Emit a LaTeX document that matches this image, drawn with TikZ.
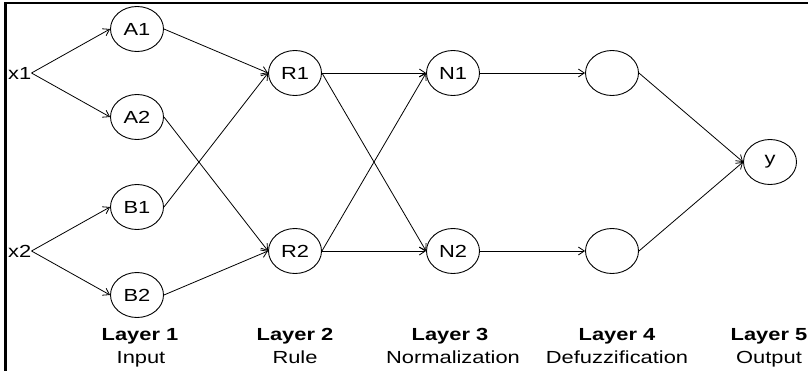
\documentclass[tikz,border=0pt]{standalone}
\usepackage{fontspec}
\setmainfont{Liberation Sans}[FakeStretch=1.25]
\usetikzlibrary{shapes.geometric,arrows.meta}
\begin{document}
\begin{tikzpicture}[x=1pt,y=-1pt,
  nd/.style={ellipse,draw,line width=0.9pt,minimum width=53pt,minimum height=45pt,inner sep=0pt,font=\fontsize{17.5}{20}\selectfont},
  lbl/.style={inner sep=0pt,font=\fontsize{17.5}{20}\selectfont},
  bl/.style={inner sep=0pt,anchor=base,font=\fontsize{17.5}{20}\selectfont\bfseries},
  tl/.style={inner sep=0pt,anchor=base,font=\fontsize{17.5}{20}\selectfont},
  arr/.style={line width=0.8pt,-{Straight Barb[length=6pt,width=8pt]}}]
\useasboundingbox (0,0) rectangle (808,370);
\draw[line width=2.5pt] (5.3,371) -- (5.3,2.8) -- (809,2.8);
\node[lbl,anchor=west] (x1) at (8,73) {x1};
\node[lbl,anchor=west] (x2) at (8,251) {x2};
\node[nd] (A1) at (137,29) {A1};
\node[nd] (A2) at (137,117) {A2};
\node[nd] (B1) at (137,207) {B1};
\node[nd] (B2) at (137,295) {B2};
\node[nd] (R1) at (295,73) {R1};
\node[nd] (R2) at (295,251) {R2};
\node[nd] (N1) at (453,73) {N1};
\node[nd] (N2) at (453,251) {N2};
\node[nd] (D1) at (612,73) {};
\node[nd] (D2) at (612,251) {};
\node[nd] (Y) at (770,162) {y};
\draw[arr] (x1.east) -- (A1.west);
\draw[arr] (x1.east) -- (A2.west);
\draw[arr] (x2.east) -- (B1.west);
\draw[arr] (x2.east) -- (B2.west);
\draw[arr] (A1.east) -- (R1.west);
\draw[arr] (A2.east) -- (R2.west);
\draw[arr] (B1.east) -- (R1.west);
\draw[arr] (B2.east) -- (R2.west);
\draw[arr] (R1.east) -- (N1.west);
\draw[arr] (R1.east) -- (N2.west);
\draw[arr] (R2.east) -- (N1.west);
\draw[arr] (R2.east) -- (N2.west);
\draw[arr] (N1.east) -- (D1.west);
\draw[arr] (N2.east) -- (D2.west);
\draw[arr] (D1.east) -- (Y.west);
\draw[arr] (D2.east) -- (Y.west);
\node[bl] (L1) at (140,340) {Layer 1};
\node[tl] (T1) at (141,363) {Input};
\node[bl] (L2) at (295,340) {Layer 2};
\node[tl] (T2) at (295,363) {Rule};
\node[bl] (L3) at (450,340) {Layer 3};
\node[tl] (T3) at (453,363) {Normalization};
\node[bl] (L4) at (617,340) {Layer 4};
\node[tl] (T4) at (617,363) {Defuzzification};
\node[bl] (L5) at (769,340) {Layer 5};
\node[tl] (T5) at (769,363) {Output};
\end{tikzpicture}
\end{document}
